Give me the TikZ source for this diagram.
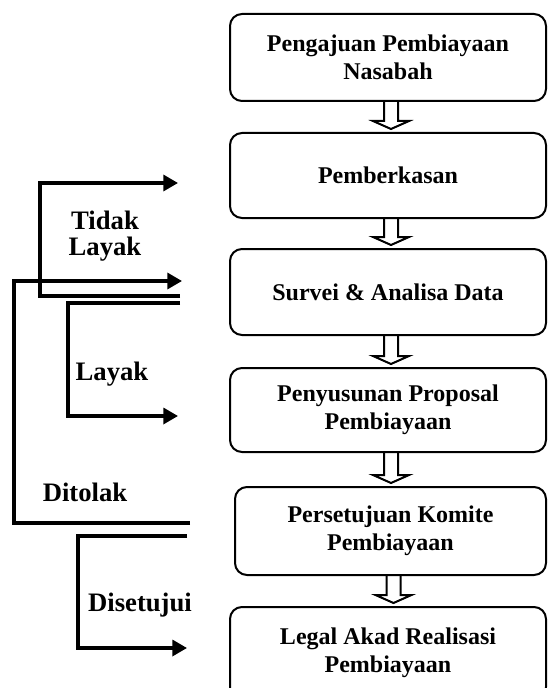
\documentclass[tikz,border=0pt]{standalone}
\usepackage{fontspec}
\setmainfont{Liberation Serif}
\usetikzlibrary{arrows.meta, calc}

\tikzset{
  tahap/.style={draw, line width=1.5pt, rounded corners=9pt, minimum width=237pt, align=center,
                font=\fontsize{18}{21}\selectfont\bfseries},
  ket/.style={align=center, font=\fontsize{20}{19}\selectfont\bfseries},
  alur/.style={line width=2.5pt, -{Triangle[length=11pt,width=12pt]}},
  alurbuka/.style={line width=2.5pt},
}

% panah berongga dari kotak #1 ke kotak #2
\newcommand{\panahtahap}[2]{%
  \draw[line width=1.5pt, line join=miter] let \p1=(#1.south), \p2=(#2.north) in
    ({\x1-3pt},\y1) -- ({\x1-3pt},{\y2+8.25pt}) -- ({\x1-11.25pt},{\y2+8.25pt})
    -- ({\x1+2.25pt},{\y2+2.25pt}) -- ({\x1+15.75pt},{\y2+8.25pt})
    -- ({\x1+7.5pt},{\y2+8.25pt}) -- ({\x1+7.5pt},\y1);}

\begin{document}
\begin{tikzpicture}[x=0.75pt, y=-0.75pt]
  \useasboundingbox (0,0) rectangle (548,688);

  % tahapan pembiayaan
  \node[tahap, minimum height=65.25pt] (pengajuan) at (388,57.5) {Pengajuan Pembiayaan\\Nasabah};
  \node[tahap, minimum height=63.75pt] (pemberkasan) at (388,175.5) {Pemberkasan};
  \node[tahap, minimum height=64.5pt] (survei) at (388,292) {Survei \& Analisa Data};
  \node[tahap, minimum height=63pt] (proposal) at (388,410) {Penyusunan Proposal\\Pembiayaan};
  \node[tahap, minimum height=66pt, minimum width=233.25pt] (komite) at (390.5,531) {Persetujuan Komite\\Pembiayaan};
  \node[tahap, minimum height=69pt] (akad) at (388,653) {Legal Akad Realisasi\\Pembiayaan};

  \panahtahap{pengajuan}{pemberkasan}
  \panahtahap{pemberkasan}{survei}
  \panahtahap{survei}{proposal}
  \panahtahap{proposal}{komite}
  \panahtahap{komite}{akad}

  % jalur keputusan
  \coordinate (tidakA) at (180,296);
  \coordinate (tidakB) at (40,183);
  \coordinate (tidakC) at (178,183);
  \draw[alur] (tidakA) -| (tidakB) -- (tidakC);

  \coordinate (layakA) at (180,303);
  \coordinate (layakB) at (68,416);
  \coordinate (layakC) at (178,416);
  \draw[alur] (layakA) -| (layakB) -- (layakC);

  \coordinate (tolakA) at (190,523);
  \coordinate (tolakB) at (14,281);
  \coordinate (tolakC) at (182,281);
  \draw[alur] (tolakA) -| (tolakB) -- (tolakC);

  \coordinate (setujuA) at (187,536);
  \coordinate (setujuB) at (78,648);
  \coordinate (setujuC) at (187,648);
  \draw[alur] (setujuA) -| (setujuB) -- (setujuC);

  \node[ket] (tidaklayak) at (105,236) {Tidak\\Layak};
  \node[ket] (layak) at (112,374) {Layak};
  \node[ket] (ditolak) at (85,492) {Ditolak};
  \node[ket] (disetujui) at (140,605) {Disetujui};
\end{tikzpicture}
\end{document}
